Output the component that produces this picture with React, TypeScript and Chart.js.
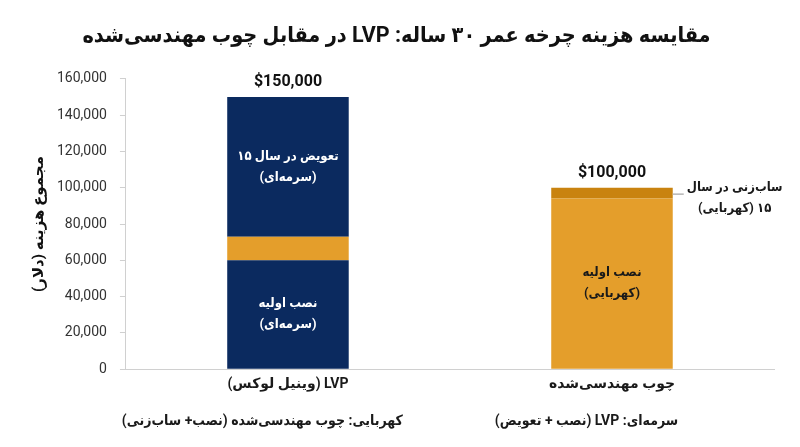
import React, { useEffect, useRef } from "react";
import { Chart, registerables } from "chart.js";

Chart.register(...registerables);

const titleText = "مقایسه هزینه چرخه عمر ۳۰ ساله: LVP در مقابل چوب مهندسی‌شده";
const yAxisTitle = "مجموع هزینه (دلار)";
const categories = ["LVP (وینیل لوکس)", "چوب مهندسی‌شده"];

// stacked segments (bottom -> top)
const initialInstall = [60000, 94000];
const middleBand = [13000, 6000];
const replacement = [77000, 0];

const totals = ["$150,000", "$100,000"];

const initialLabels = [["نصب اولیه", "(سرمه‌ای)"], ["نصب اولیه", "(کهربایی)"]];
const replacementLabels = [["تعویض در سال ۱۵", "(سرمه‌ای)"], null];
const sandingLabel = ["ساب‌زنی در سال", "۱۵ (کهربایی)"];

const notes = ["سرمه‌ای: LVP (نصب + تعویض)", "کهربایی: چوب مهندسی‌شده (نصب+ ساب‌زنی)"];

const NAVY = "#0b2a5f";
const AMBER = "#e49e2b";
const DARK_AMBER = "#c9830f";

const FONT = "Roboto, 'DejaVu Sans', sans-serif";
const FONT_C = "Roboto, 'DejaVu Sans Condensed', 'DejaVu Sans', sans-serif";

const labelPlugin = {
  id: "segLabels",
  afterDatasetsDraw(chart: any) {
    const ctx = chart.ctx as CanvasRenderingContext2D;
    ctx.save();
    ctx.direction = "rtl";
    ctx.textAlign = "center";
    ctx.textBaseline = "middle";
    const m0 = chart.getDatasetMeta(0);
    const m1 = chart.getDatasetMeta(1);
    const m2 = chart.getDatasetMeta(2);
    const lineH = 21;
    const blockFont = `bold 13px ${FONT_C}`;
    const drawBlock = (lines: string[], x: number, cy: number, color: string) => {
      ctx.fillStyle = color;
      ctx.font = blockFont;
      const start = cy - ((lines.length - 1) * lineH) / 2;
      lines.forEach((l, i) => ctx.fillText(l, x, start + i * lineH));
    };
    m0.data.forEach((el: any, i: number) => {
      const lab = initialLabels[i];
      if (!lab) return;
      const cy = (el.y + el.base) / 2;
      drawBlock(lab, el.x, cy, i === 0 ? "#ffffff" : "#1a1a1a");
    });
    m2.data.forEach((el: any, i: number) => {
      const lab = replacementLabels[i];
      if (!lab) return;
      const cy = (el.y + el.base) / 2;
      drawBlock(lab, el.x, cy, "#ffffff");
    });
    const sEl: any = m1.data[1];
    if (sEl) {
      const right = sEl.x + sEl.width / 2;
      const cy = (sEl.y + sEl.base) / 2;
      ctx.strokeStyle = "#b5b5b5";
      ctx.lineWidth = 1.5;
      ctx.beginPath();
      ctx.moveTo(right, cy + 1);
      ctx.lineTo(right + 11, cy + 1);
      ctx.stroke();
      ctx.font = blockFont;
      const w = Math.max(...sandingLabel.map((l) => ctx.measureText(l).width));
      drawBlock(sandingLabel, right + 14 + w / 2, cy + 5, "#1a1a1a");
    }
    ctx.font = `bold 16px ${FONT}`;
    ctx.fillStyle = "#111";
    ctx.textBaseline = "bottom";
    ctx.direction = "ltr";
    const tops = [0, 1].map((i) => {
      const els = [m0.data[i], m1.data[i], m2.data[i]] as any[];
      return { x: els[0].x, y: Math.min(...els.map((e) => e.y)) };
    });
    tops.forEach((t, i) => ctx.fillText(totals[i], t.x, t.y - 7));
    ctx.direction = "rtl";
    ctx.font = `bold 14px ${FONT_C}`;
    ctx.fillStyle = "#1a1a1a";
    ctx.textBaseline = "middle";
    const gap = 92;
    const widths = notes.map((n) => ctx.measureText(n).width);
    const total = widths[0] + widths[1] + gap;
    const cx = chart.width / 2;
    let xr = cx + total / 2;
    const ny = chart.chartArea.bottom + 52;
    notes.forEach((n, i) => {
      ctx.fillText(n, xr - widths[i] / 2, ny);
      xr -= widths[i] + gap;
    });
    ctx.restore();
  },
};

export default function App() {
  const ref = useRef<HTMLCanvasElement | null>(null);
  useEffect(() => {
    document.body.style.margin = "0";
    if (!ref.current) return;
    const chart = new Chart(ref.current, {
      type: "bar",
      data: {
        labels: categories,
        datasets: [
          { label: "نصب اولیه", data: initialInstall, backgroundColor: [NAVY, AMBER] },
          { label: "ساب‌زنی", data: middleBand, backgroundColor: [AMBER, DARK_AMBER] },
          { label: "تعویض", data: replacement, backgroundColor: [NAVY, NAVY] },
        ],
      },
      options: {
        animation: false,
        responsive: false,
        devicePixelRatio: 1,
        layout: { padding: { top: 12, left: 19, right: 26, bottom: 47 } },
        datasets: { bar: { categoryPercentage: 0.75, barPercentage: 0.5 } },
        plugins: {
          legend: { display: false },
          tooltip: { enabled: false },
          title: {
            display: true,
            text: titleText,
            color: "#111",
            font: { family: FONT_C, size: 21.5, weight: "bold" },
            padding: { top: 12, bottom: 29 },
          },
        },
        scales: {
          x: {
            stacked: true,
            grid: { display: false, drawTicks: false },
            border: { display: true, color: "#d0d0d0", width: 1 },
            ticks: { color: "#1a1a1a", padding: 7, font: { family: FONT, size: 14, weight: "bold" } },
          },
          y: {
            stacked: true,
            min: 0,
            max: 160000,
            grid: { drawOnChartArea: false, drawTicks: true, tickLength: 6, color: "#d0d0d0" },
            border: { display: true, color: "#d0d0d0", width: 1 },
            ticks: {
              stepSize: 20000,
              color: "#333",
              padding: 13,
              font: { family: FONT, size: 14 },
              callback: (v: any) => Number(v).toLocaleString("en-US"),
            },
            title: {
              display: true,
              text: yAxisTitle,
              color: "#111",
              font: { family: FONT, size: 15, weight: "bold" },
              padding: { top: 11, bottom: -4 },
            },
          },
        },
      },
      plugins: [labelPlugin],
    });
    return () => chart.destroy();
  }, []);
  return (
    <div style={{ width: 800, height: 447 }}>
      <canvas ref={ref} width={800} height={447} dir="rtl" style={{ display: "block" }} />
    </div>
  );
}
